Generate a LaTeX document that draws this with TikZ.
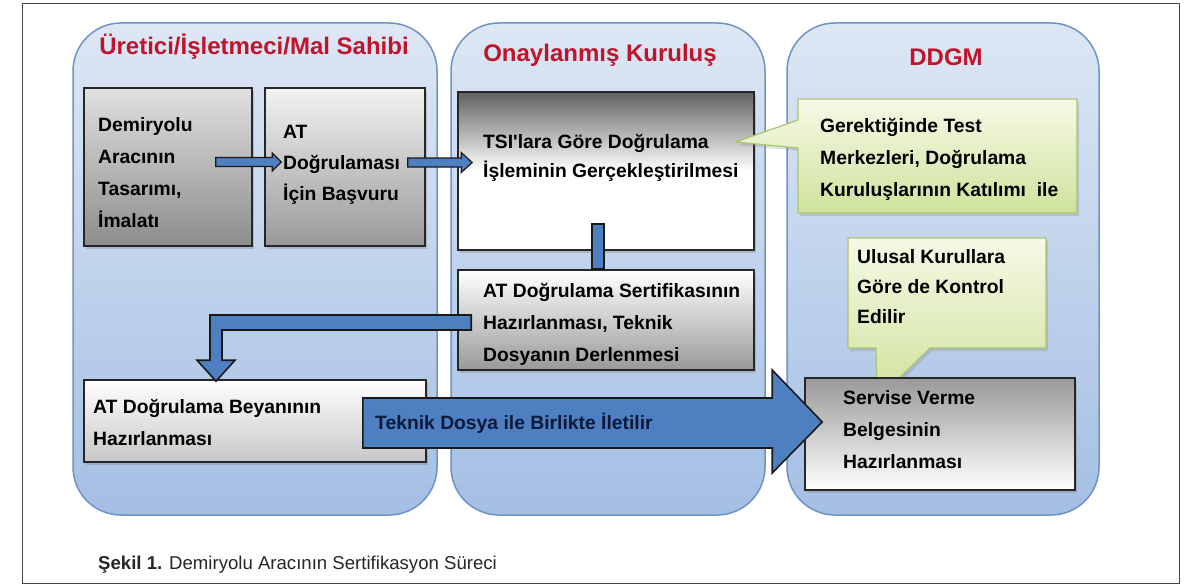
\documentclass[tikz,border=0pt]{standalone}
\usepackage{fontspec}
\setmainfont{Liberation Sans}
\newfontfamily\plainsans{Liberation Sans}
\usetikzlibrary{calc,shadows}
\definecolor{lanetop}{HTML}{DDE7F4}
\definecolor{lanebot}{HTML}{A4BFE4}
\definecolor{laneedge}{HTML}{6F93C6}
\definecolor{titlered}{HTML}{C0142C}
\definecolor{arrowblue}{HTML}{4E7FC0}
\definecolor{greentop}{HTML}{F6F9E6}
\definecolor{greenbot}{HTML}{CFE29C}
\definecolor{greenedge}{HTML}{A9C56F}
\definecolor{navytext}{HTML}{0B1A3C}
\definecolor{framecol}{HTML}{444444}
\begin{document}
\begin{tikzpicture}[x=1pt,y=-1pt,
  lane/.style={draw=laneedge, line width=1.5pt, rounded corners=48pt, top color=lanetop, bottom color=lanebot},
  lanetitle/.style={text=titlered, font=\fontsize{24}{28}\selectfont\bfseries, anchor=base, inner sep=0pt},
  box/.style={draw=black!85, line width=1.6pt, inner sep=0pt, drop shadow={shadow xshift=2pt,shadow yshift=-3pt,opacity=.35}},
  txt/.style={anchor=base west, inner sep=0pt, align=left, font=\fontsize{19.3}{32}\selectfont\bfseries},
  blockarrow/.style={fill=arrowblue, draw=black!90, line width=1.6pt, line join=miter},
  callout/.style={draw=greenedge, line width=1.2pt, top color=greentop, bottom color=greenbot, drop shadow={shadow xshift=2pt,shadow yshift=-3pt,opacity=.25}},
  anchorbox/.style={inner sep=0pt, outer sep=0pt}
]
\useasboundingbox (0,0) rectangle (1193,586);
\draw[framecol, line width=1pt] (22,4) rectangle (1179,583);

% lanes
\draw[lane] (73,23) rectangle (437,515);
\draw[lane] (451,23) rectangle (765,515);
\draw[lane] (787,23) rectangle (1099,515);
\node[lanetitle] (l1) at (254,55) {Üretici/İşletmeci/Mal Sahibi};
\node[lanetitle] (l2) at (600,62) {Onaylanmış Kuruluş};
\node[lanetitle] (l3) at (946,65) {DDGM};

% boxes
\node[box, minimum width=168pt, minimum height=158pt, top color=black!12, bottom color=black!45] (b1) at (168,167) {};
\node[box, minimum width=160pt, minimum height=158pt, top color=black!5, bottom color=black!40] (b2) at (345,167) {};
\node[box, minimum width=296pt, minimum height=158pt, top color=black!62, bottom color=white, middle color=white] (b3) at (606,171) {};
\node[box, minimum width=296pt, minimum height=100pt, top color=white, bottom color=black!40] (b4) at (606,320) {};
\node[box, minimum width=342pt, minimum height=82pt, top color=white, bottom color=black!22] (b5) at (255,421) {};

% callouts
\node[anchorbox, minimum width=279pt, minimum height=114pt] (c1) at (937.5,156) {};
\draw[callout] (c1.north west) -- (c1.north east) -- (c1.south east) -- (c1.south west)
  -- ($(c1.west)+(0,-8)$) -- ($(b3.east)+(-19,-29)$) -- ($(c1.west)+(0,-36)$) -- cycle;
\node[anchorbox, minimum width=198pt, minimum height=110pt] (c2) at (947,293) {};
\node[anchorbox, minimum width=270pt, minimum height=112pt] (b6pos) at (940,434) {};
\draw[callout] (c2.north west) -- (c2.north east) -- (c2.south east)
  -- ($(c2.south)+(-17,0)$) -- ($(b6pos.north west)+(72,22)$) -- ($(c2.south west)+(28,0)$)
  -- (c2.south west) -- cycle;
\node[box, minimum width=270pt, minimum height=112pt, top color=black!40, bottom color=white] (b6) at (940,434) {};

% texts (anchored at the baseline of the last line)
\node[txt] (t1) at (98,227) {Demiryolu\\Aracının\\Tasarımı,\\İmalatı};
\node[txt, font=\fontsize{19.3}{31}\selectfont\bfseries] (t2) at (283,200) {AT\\Doğrulaması\\İçin Başvuru};
\node[txt, font=\plainsans\fontsize{19.3}{29}\selectfont\bfseries] (t3) at (483,177) {TSI'lara Göre Doğrulama\\İşleminin Gerçekleştirilmesi};
\node[txt] (t4) at (483,361) {AT Doğrulama Sertifikasının\\Hazırlanması, Teknik\\Dosyanın Derlenmesi};
\node[txt, font=\fontsize{19.3}{32}\selectfont\bfseries] (t5) at (820,196) {Gerektiğinde Test\\Merkezleri, Doğrulama\\Kuruluşlarının Katılımı\ \ ile};
\node[txt, font=\fontsize{19.3}{30}\selectfont\bfseries] (t6) at (857,323) {Ulusal Kurullara\\Göre de Kontrol\\Edilir};
\node[txt] (t7) at (843,468) {Servise Verme\\Belgesinin\\Hazırlanması};
\node[txt] (t8) at (93,445) {AT Doğrulama Beyanının\\Hazırlanması};

% connectors
\coordinate (a1s) at ($(b1.east)+(-37,-5)$);
\coordinate (a1e) at ($(b2.west)+(17,-5)$);
\draw[blockarrow, line width=1.2pt] ($(a1s)+(0,-4.5)$) -- ($(a1e)+(-9,-4.5)$) -- ($(a1e)+(-9,-9)$) -- (a1e)
  -- ($(a1e)+(-9,9)$) -- ($(a1e)+(-9,4.5)$) -- ($(a1s)+(0,4.5)$) -- cycle;
\coordinate (a2s) at ($(b2.east)+(-18,-4.5)$);
\coordinate (a2e) at ($(b3.west)+(15,-8.5)$);
\draw[blockarrow, line width=1.2pt] ($(a2s)+(0,-4.5)$) -- ($(a2e)+(-11,-4.5)$) -- ($(a2e)+(-11,-10)$) -- (a2e)
  -- ($(a2e)+(-11,10)$) -- ($(a2e)+(-11,4.5)$) -- ($(a2s)+(0,4.5)$) -- cycle;
\draw[blockarrow] ($(b3.south)+(-14,-27)$) rectangle ($(b4.north)+(-2,0)$);
\coordinate (a3s) at ($(b4.west)+(14,2.5)$);
\coordinate (a3e) at ($(b5.north)+(-39,2)$);
\draw[blockarrow] ($(a3s)+(0,-7.5)$) -- ($(a3e|-a3s)+(-6,-7.5)$) -- ($(a3e)+(-6,-21)$) -- ($(a3e)+(-19,-21)$)
  -- (a3e) -- ($(a3e)+(19,-21)$) -- ($(a3e)+(6,-21)$) -- ($(a3e|-a3s)+(6,7.5)$) -- ($(a3s)+(0,7.5)$) -- cycle;
\coordinate (a4s) at ($(b5.east)+(-64,2)$);
\coordinate (a4e) at ($(b6.west)+(18,-12)$);
\draw[blockarrow] ($(a4s)+(0,-25)$) -- ($(a4e)+(-50,-24)$) -- ($(a4e)+(-50,-52)$) -- (a4e)
  -- ($(a4e)+(-50,51)$) -- ($(a4e)+(-50,26)$) -- ($(a4s)+(0,25)$) -- cycle;
\node[txt, text=navytext] (t9) at (375,429) {Teknik Dosya ile Birlikte İletilir};

% caption
\node[anchor=base west, inner sep=0pt, text=black!85, font=\fontsize{18.6}{22}\selectfont] (cap) at (98,569) {\textbf{Şekil 1.} Demiryolu Aracının Sertifikasyon Süreci};
\end{tikzpicture}
\end{document}
